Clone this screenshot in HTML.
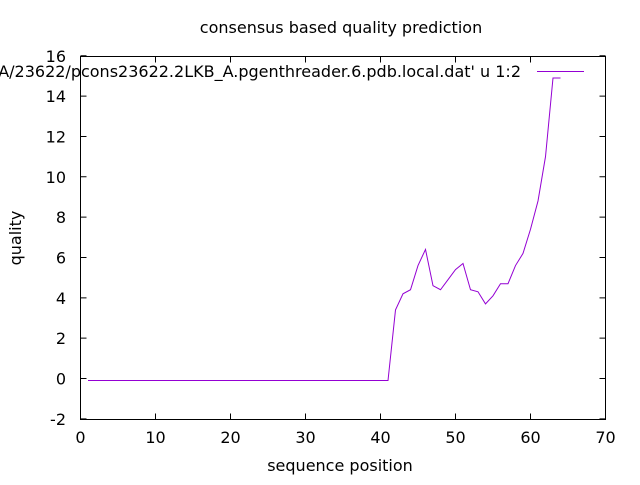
<!DOCTYPE html>
<html><head><meta charset="utf-8"><style>
body{margin:0;background:#fff}
svg text{font-family:"DejaVu Sans","Liberation Sans",sans-serif;font-size:16px;fill:#000}
</style></head><body>
<svg id="chart" width="640" height="480" xmlns="http://www.w3.org/2000/svg">
<rect width="640" height="480" fill="#fff"/>
<text x="341" y="33" text-anchor="middle">consensus based quality prediction</text>
<text x="340" y="471" text-anchor="middle">sequence position</text>
<text transform="translate(21,238) rotate(-90)" text-anchor="middle">quality</text>
<rect x="80.5" y="56.5" width="525" height="363" fill="none" stroke="#000"/>
<g id="axes"></g>
<text x="521" y="77" text-anchor="end">A/23622/pcons23622.2LKB_A.pgenthreader.6.pdb.local.dat' u 1:2</text>
<line x1="537" y1="71.5" x2="584" y2="71.5" stroke="#9400d3"/>
<polyline id="series" fill="none" stroke="#9400d3" stroke-width="1"/>
</svg>
<script>
const xTicks=[0,10,20,30,40,50,60,70];
const yTicks=[-2,0,2,4,6,8,10,12,14,16];
const xs=[];for(let i=1;i<=64;i++)xs.push(i);
const ys=[-0.1,-0.1,-0.1,-0.1,-0.1,-0.1,-0.1,-0.1,-0.1,-0.1,-0.1,-0.1,-0.1,-0.1,-0.1,-0.1,-0.1,-0.1,-0.1,-0.1,-0.1,-0.1,-0.1,-0.1,-0.1,-0.1,-0.1,-0.1,-0.1,-0.1,-0.1,-0.1,-0.1,-0.1,-0.1,-0.1,-0.1,-0.1,-0.1,-0.1,-0.1,
3.4,4.2,4.4,5.6,6.4,4.6,4.4,4.9,5.4,5.7,4.4,4.3,3.7,4.1,4.7,4.7,5.6,6.2,7.4,8.8,11.0,14.9,14.9];
const X=v=>80.5+v*7.5, Y=v=>378.5-v*20.17;
const ns="http://www.w3.org/2000/svg", g=document.getElementById('axes');
function mk(t,a){const e=document.createElementNS(ns,t);for(const k in a)e.setAttribute(k,a[k]);g.appendChild(e);return e;}
xTicks.forEach(v=>{
 const l=mk('path',{d:`M${X(v)},419.5v-6M${X(v)},56.5v6`,stroke:'#000'});
 
 
 const t=mk('text',{x:X(v),y:443,'text-anchor':'middle'});t.textContent=v;
 
 
});
yTicks.forEach(v=>{
 const l=mk('path',{d:`M80.5,${Y(v)}h6M605.5,${Y(v)}h-6`,stroke:'#000'});
 
 
 const t=mk('text',{x:66,y:Y(v)+6,'text-anchor':'end'});t.textContent=v;
 
 
});
document.getElementById('series').setAttribute('points',xs.map((x,i)=>X(x)+','+Y(ys[i])).join(' '));
</script>
</body></html>
